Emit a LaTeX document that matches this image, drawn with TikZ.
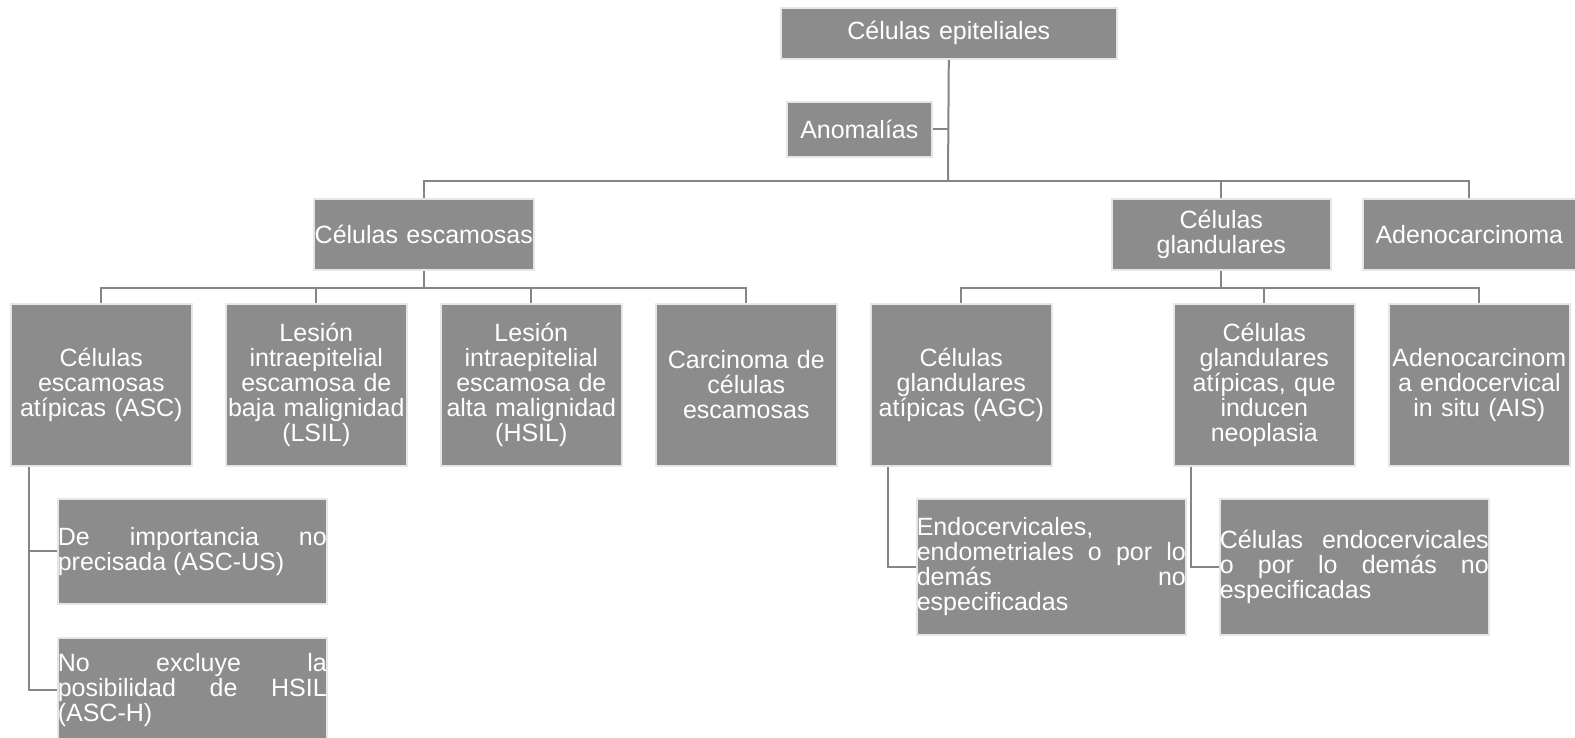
\documentclass[tikz,border=0pt]{standalone}
\usepackage{fontspec}
\setmainfont{Liberation Sans}
\usetikzlibrary{backgrounds}
\tolerance=10000 \hbadness=10000 \parindent=0pt
\definecolor{cellgray}{HTML}{8C8C8C}
\definecolor{cellrim}{HTML}{E6E6E6}
\definecolor{linkgray}{HTML}{858585}
\tikzset{
  cell/.style={fill=cellgray, draw=cellrim, line width=1.6pt, text=white,
    inner sep=0pt, anchor=north west, font=\fontsize{25}{25}\selectfont},
  head/.style={cell, align=center, minimum height=71pt, minimum width=#1, text width=#1},
  kind/.style={cell, align=center, minimum width=181pt, minimum height=162pt, text width=177pt},
  note/.style={cell, align=justify, minimum width=269pt, text width=269pt},
  link/.style={draw=linkgray, line width=2pt},
}
\begin{document}
\begin{tikzpicture}[x=1pt,y=-1pt]
\useasboundingbox (0,0) rectangle (1575,738);
% top of the tree
\node[head=336pt, minimum height=51pt] (top) at (780,7) {Células epiteliales};
\node[head=145pt, minimum height=55pt] (anom) at (786,101) {Anomalías};
\coordinate (hub) at (948,181);
\node[head=220pt] (esc) at (313,198) {Células escamosas};
\node[head=219pt] (gla) at (1111,198) {Células\\glandulares};
\node[head=213pt] (ade) at (1362,198) {Adenocarcinoma};
% second level
\node[kind] (asc) at (10,303) {Células\\escamosas\\atípicas (ASC)};
\node[kind] (lsil) at (225,303) {Lesión\\intraepitelial\\escamosa de\\baja malignidad\\(LSIL)};
\node[kind] (hsil) at (440,303) {Lesión\\intraepitelial\\escamosa de\\alta malignidad\\(HSIL)};
\node[kind] (car) at (655,303) {Carcinoma de\\células\\escamosas};
\node[kind] (agc) at (870,303) {Células\\glandulares\\atípicas (AGC)};
\node[kind] (neo) at (1173,303) {Células\\glandulares\\atípicas, que\\inducen\\neoplasia};
\node[kind] (ais) at (1388,303) {Adenocarcinom\\a endocervical\\in situ (AIS)};
% third level
\node[note, minimum height=105pt] (ascus) at (57,498) {De importancia no\linebreak precisada (ASC-US)};
\node[note, minimum height=105pt] (asch) at (57,637) {No excluye la\linebreak posibilidad de HSIL\linebreak (ASC-H)};
\node[note, minimum height=136pt] (endo) at (916,498) {Endocervicales,\linebreak endometriales o por lo\linebreak demás no\linebreak especificadas};
\node[note, minimum height=136pt] (celend) at (1219,498) {Células endocervicales\linebreak o por lo demás no\linebreak especificadas};
% connectors
\begin{scope}[on background layer]
\draw[link] (top.south) -- (hub);
\draw[link] (anom.east) -- (anom.east -| hub);
\foreach \c in {esc,gla,ade} \draw[link] (hub) -| (\c.north);
\foreach \c in {asc,lsil,hsil,car} \draw[link] (esc.south) -- ++(0,17) -| (\c.north);
\foreach \c in {agc,neo,ais} \draw[link] (gla.south) -- ++(0,17) -| (\c.north);
\draw[link] ([xshift=19pt]asc.south west) |- (ascus.west);
\draw[link] ([xshift=19pt]asc.south west) |- (asch.west);
\draw[link] ([xshift=18pt]agc.south west) |- (endo.west);
\draw[link] ([xshift=18pt]neo.south west) |- (celend.west);
\end{scope}
\end{tikzpicture}
\end{document}
